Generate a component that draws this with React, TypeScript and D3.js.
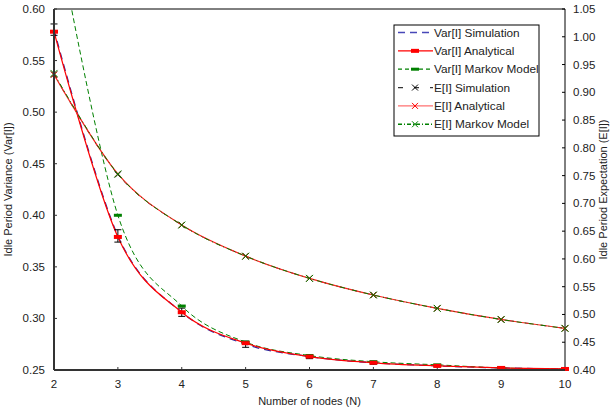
import * as d3 from 'd3';

const nodes = [2, 3, 4, 5, 6, 7, 8, 9, 10];
const varSim = [0.580, 0.380, 0.306, 0.275, 0.263, 0.257, 0.254, 0.252, 0.251];
const varSimErr = [0.0055, 0.006, 0.004, 0.003, 0.002, 0.0015, 0.001, 0.001, 0.001];
const varAnalytical = [0.578, 0.379, 0.306, 0.276, 0.263, 0.257, 0.254, 0.252, 0.251];
const varMarkov = [0.69, 0.400, 0.312, 0.277, 0.264, 0.258, 0.255, 0.252, 0.251];
const eSim = [0.932, 0.752, 0.661, 0.605, 0.565, 0.535, 0.511, 0.491, 0.475];
const eAnalytical = [0.932, 0.753, 0.661, 0.605, 0.565, 0.535, 0.511, 0.491, 0.475];
const eMarkov = [0.934, 0.753, 0.661, 0.605, 0.565, 0.535, 0.511, 0.491, 0.475];

const leftTicks = [0.25, 0.30, 0.35, 0.40, 0.45, 0.50, 0.55, 0.60];
const rightTicks = [0.40, 0.45, 0.50, 0.55, 0.60, 0.65, 0.70, 0.75, 0.80, 0.85, 0.90, 0.95, 1.00, 1.05];

const width = 611;
const height = 411;
const margin = { top: 9, right: 46, bottom: 41, left: 54 };
const innerWidth = width - margin.left - margin.right;
const innerHeight = height - margin.top - margin.bottom;
const font = 'Liberation Sans, Arial, sans-serif';

const xScale = d3.scaleLinear().domain([2, 10]).range([0, innerWidth]);
const yLeft = d3.scaleLinear().domain([0.25, 0.60]).range([innerHeight, 0]);
const yRight = d3.scaleLinear().domain([0.40, 1.05]).range([innerHeight, 0]);

// Excel-style smoothing ~ uniform Catmull-Rom
const makeLine = (y: d3.ScaleLinear<number, number>) =>
  d3.line<number>()
    .x((_, i) => xScale(nodes[i]))
    .y(d => y(d))
    .curve(d3.curveCatmullRom.alpha(0));

const leftLine = makeLine(yLeft);
const rightLine = makeLine(yRight);

const Cross = ({ x, y, color, s = 3 }: { x: number; y: number; color: string; s?: number }) => (
  <g stroke={color} strokeWidth={1}>
    <line x1={x - s} y1={y - s} x2={x + s} y2={y + s} />
    <line x1={x - s} y1={y + s} x2={x + s} y2={y - s} />
  </g>
);

const Bar = ({ x, y, color, w = 8, h = 4 }: { x: number; y: number; color: string; w?: number; h?: number }) => (
  <rect x={x - w / 2} y={y - h / 2} width={w} height={h} fill={color} />
);

const legendItems = [
  { label: 'Var[I] Simulation', color: '#4848b8', dash: '7,5', marker: 'none' },
  { label: 'Var[I] Analytical', color: '#ff0000', dash: '', marker: 'redbar' },
  { label: 'Var[I] Markov Model', color: '#008000', dash: '4,3', marker: 'greenbar' },
  { label: 'E[I] Simulation', color: '#333333', dash: '5,11', marker: 'blackx' },
  { label: 'E[I] Analytical', color: '#ff7070', dash: '', marker: 'redx' },
  { label: 'E[I] Markov Model', color: '#008000', dash: '4,2,1,2', marker: 'greenx' },
];

function App() {
  return (
    <svg width={width} height={height} style={{ position: 'absolute', left: 0, top: 0, background: '#fff' }}>
      <defs>
        <clipPath id="plot">
          <rect x={0} y={0} width={innerWidth} height={innerHeight} />
        </clipPath>
      </defs>
      <g transform={`translate(${margin.left},${margin.top})`} fontFamily={font}>
        {/* frame */}
        <line x1={0} x2={innerWidth} y1={0} y2={0} stroke="#000" strokeWidth={1} />
        <line x1={innerWidth} x2={innerWidth} y1={0} y2={innerHeight} stroke="#000" strokeWidth={1} />

        {leftTicks.map(t => (
          <g key={'l' + t}>
            <line x1={0} x2={3} y1={yLeft(t)} y2={yLeft(t)} stroke="#333" />
            <text x={-9} y={yLeft(t)} dy="0.35em" textAnchor="end" fontSize={11.5} fill="#222">
              {t.toFixed(2)}
            </text>
          </g>
        ))}
        {rightTicks.map(t => (
          <g key={'r' + t}>
            <line x1={innerWidth - 3} x2={innerWidth} y1={yRight(t)} y2={yRight(t)} stroke="#000" />
            <text x={innerWidth + 8} y={yRight(t)} dy="0.35em" textAnchor="start" fontSize={11.5} fill="#222">
              {t.toFixed(2)}
            </text>
          </g>
        ))}
        {nodes.map(n => (
          <g key={'x' + n}>
            <line x1={xScale(n)} x2={xScale(n)} y1={innerHeight - 3} y2={innerHeight} stroke="#333" />
            <text x={xScale(n)} y={innerHeight + 18} textAnchor="middle" fontSize={11.5} fill="#222">
              {n}
            </text>
          </g>
        ))}

        {/* series */}
        <g clipPath="url(#plot)" fill="none">
          <path d={leftLine(varSim) ?? ''} stroke="#2a2aa0" strokeWidth={1.3} strokeDasharray="7,5" />
          <path d={leftLine(varMarkov) ?? ''} stroke="#008000" strokeWidth={1} strokeDasharray="5,3" />
          <path d={leftLine(varAnalytical) ?? ''} stroke="#ff0000" strokeWidth={1.2} />
          <path d={rightLine(eSim) ?? ''} stroke="#333" strokeWidth={1} strokeDasharray="5,11" />
          <path d={rightLine(eAnalytical) ?? ''} stroke="#ff2020" strokeWidth={1.2} />
          <path d={rightLine(eMarkov) ?? ''} stroke="#008000" strokeWidth={1} strokeDasharray="5,3,1,3" />
        </g>
        {/* error bars */}
        {nodes.map((n, i) => {
          const x = xScale(n);
          const y0 = yLeft(varSim[i] - varSimErr[i]);
          const y1 = yLeft(varSim[i] + varSimErr[i]);
          return (
            <g key={'e' + n} stroke="#000" strokeWidth={1}>
              <line x1={x} x2={x} y1={y0} y2={y1} />
              <line x1={x - 3.5} x2={x + 3.5} y1={y0} y2={y0} />
              <line x1={x - 3.5} x2={x + 3.5} y1={y1} y2={y1} />
            </g>
          );
        })}
        {/* markers */}
        {nodes.map((n, i) =>
          yLeft(varMarkov[i]) >= 0 ? <Bar key={'gm' + n} x={xScale(n)} y={yLeft(varMarkov[i])} color="#008000" h={3} /> : null
        )}
        {nodes.map((n, i) => (
          <Bar key={'rm' + n} x={xScale(n)} y={yLeft(varAnalytical[i])} color="#ff0000" />
        ))}
        {nodes.map((n, i) => (
          <Cross key={'bx' + n} x={xScale(n)} y={yRight(eSim[i])} color="#000" />
        ))}
        {nodes.map((n, i) => (
          <Cross key={'rx' + n} x={xScale(n)} y={yRight(eAnalytical[i])} color="#ff0000" />
        ))}
        {nodes.map((n, i) => (
          <Cross key={'gx' + n} x={xScale(n)} y={yRight(eMarkov[i])} color="#008000" s={3.5} />
        ))}

        {/* axis lines */}
        <line x1={0} x2={0} y1={0} y2={innerHeight} stroke="#333" strokeWidth={2} />
        <line x1={0} x2={innerWidth} y1={innerHeight} y2={innerHeight} stroke="#333" strokeWidth={2} />

        {/* titles */}
        <text x={innerWidth / 2} y={innerHeight + 35} textAnchor="middle" fontSize={11} fill="#222">
          Number of nodes (N)
        </text>
        <text transform={`translate(${-42},${innerHeight / 2}) rotate(-90)`} textAnchor="middle" fontSize={11} fill="#222">
          Idle Period Variance (Var[I])
        </text>
        <text transform={`translate(${innerWidth + 42},${innerHeight / 2}) rotate(-90)`} textAnchor="middle" fontSize={11} fill="#222">
          Idle Period Expectation (E[I])
        </text>
      </g>

      {/* legend */}
      <g transform="translate(394,25)" fontFamily={font}>
        <rect x={0} y={0} width={145} height={111} fill="#fff" stroke="#000" strokeWidth={1} />
        {legendItems.map((d, i) => {
          const y = 7.5 + i * 18.35;
          return (
            <g key={d.label}>
              <line x1={4} x2={39} y1={y} y2={y} stroke={d.color} strokeWidth={1.3} strokeDasharray={d.dash} />
              {d.marker === 'redbar' && <Bar x={21} y={y} color="#ff0000" />}
              {d.marker === 'greenbar' && <Bar x={21} y={y} color="#008000" h={3} />}
              {d.marker === 'blackx' && <Cross x={21} y={y} color="#000" />}
              {d.marker === 'redx' && <Cross x={21} y={y} color="#ff0000" />}
              {d.marker === 'greenx' && <Cross x={21} y={y} color="#008000" />}
              <text x={40} y={y} dy="0.35em" fontSize={11.8} fill="#222">
                {d.label}
              </text>
            </g>
          );
        })}
      </g>
    </svg>
  );
}

export default App;
